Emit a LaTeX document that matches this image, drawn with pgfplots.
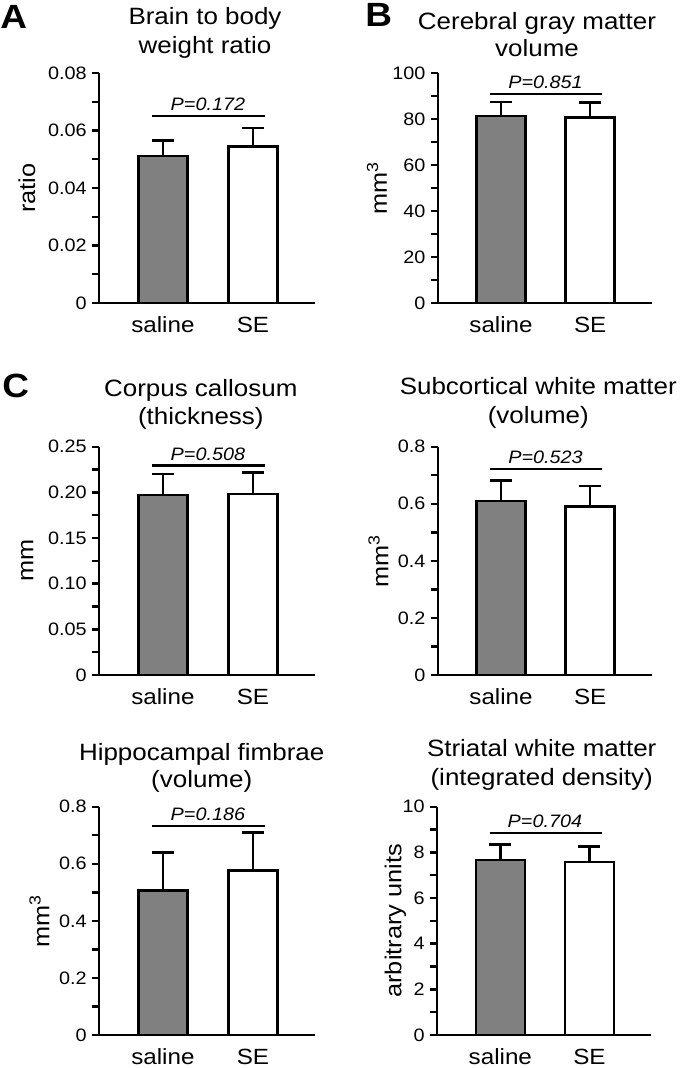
\documentclass[border=0pt]{standalone}
\usepackage{fontspec}
\setmainfont{Liberation Sans}[FakeStretch=1.1]
\usepackage{pgfplots}
\pgfplotsset{compat=1.18}
\definecolor{bargray}{RGB}{128,128,128}
\pgfplotsset{
  panel/.style={
    scale only axis, width=108pt, height=115pt,
    xmin=-0.71, xmax=1.69, ymin=0,
    axis x line=bottom, axis y line=left,
    axis line style={-, line width=1.2pt, black},
    tick align=outside, major tick length=3.5pt, minor tick length=3.5pt,
    tick style={black, line width=1.2pt},
    xtick={0,1}, xticklabels={saline,SE}, xtick style={draw=none},
    minor y tick num=1, scaled y ticks=false,
    xticklabel style={anchor=base, yshift=-11.2pt, font=\fontsize{11}{13}\selectfont},
    yticklabel style={anchor=east, inner sep=0pt, xshift=-2.5pt, font=\fontsize{9}{10}\selectfont},
    ylabel style={anchor=base, font=\fontsize{11.5}{13}\selectfont},
    clip=false, anchor=south west,
  },
  salbar/.style={ybar, bar width=24.5pt, bar shift=0pt, fill=bargray, draw=black, line width=1.2pt,
    error bars/.cd, y dir=plus, y explicit,
    error bar style={line width=1.2pt, black},
    error mark options={rotate=90, line width=1.2pt, mark size=5.5pt, black}},
  sebar/.style={ybar, bar width=24.5pt, bar shift=0pt, fill=white, draw=black, line width=1.2pt,
    error bars/.cd, y dir=plus, y explicit,
    error bar style={line width=1.2pt, black},
    error mark options={rotate=90, line width=1.2pt, mark size=5.5pt, black}},
}
\newcommand{\ttl}{\fontsize{11.8}{13}\selectfont}
\newcommand{\pfont}{\fontsize{9}{11}\selectfont\itshape}
\newcommand{\letfont}{\fontsize{16.8}{18}\selectfont\bfseries}
\begin{document}
\begin{tikzpicture}
\path[use as bounding box] (0pt,0pt) rectangle (340pt,-534pt);
% panel letters
\node[anchor=base west, inner sep=0pt, font=\letfont] at (0pt,-14.5pt) {A};
\node[anchor=base west, inner sep=0pt, font=\letfont] at (182.5pt,-13.3pt) {B};
\node[anchor=base west, inner sep=0pt, font=\letfont] at (1pt,-199pt) {C};
% titles
\node[anchor=base, inner sep=0pt, font=\ttl] at (102.5pt,-12.2pt) {Brain to body};
\node[anchor=base, inner sep=0pt, font=\ttl] at (102.5pt,-26.65pt) {weight ratio};
\node[anchor=base, inner sep=0pt, font=\ttl] at (268.5pt,-14.65pt) {Cerebral gray matter};
\node[anchor=base, inner sep=0pt, font=\ttl] at (268.5pt,-28.5pt) {volume};
\node[anchor=base, inner sep=0pt, font=\ttl] at (100.4pt,-198.35pt) {Corpus callosum};
\node[anchor=base, inner sep=0pt, font=\ttl] at (100.4pt,-212pt) {(thickness)};
\node[anchor=base, inner sep=0pt, font=\ttl] at (269.15pt,-197.5pt) {Subcortical white matter};
\node[anchor=base, inner sep=0pt, font=\ttl] at (269.15pt,-211.6pt) {(volume)};
\node[anchor=base, inner sep=0pt, font=\ttl] at (100.85pt,-380pt) {Hippocampal fimbrae};
\node[anchor=base, inner sep=0pt, font=\ttl] at (100.85pt,-393.85pt) {(volume)};
\node[anchor=base, inner sep=0pt, font=\ttl] at (270.85pt,-378pt) {Striatal white matter};
\node[anchor=base, inner sep=0pt, font=\ttl] at (270.85pt,-392.7pt) {(integrated density)};

% A
\begin{axis}[panel, at={(49.5pt,-151.5pt)}, ymax=0.08,
  ytick={0,0.02,0.04,0.06,0.08}, yticklabels={0,0.02,0.04,0.06,0.08},
  ylabel={ratio}, ylabel style={at={(axis description cs:-0.296,0.5)}}]
\addplot[salbar] coordinates {(0,0.0512) +- (0,0.0053)};
\addplot[sebar] coordinates {(1,0.0544) +- (0,0.0065)};
\draw[line width=1.2pt] (axis cs:-0.12,0.065) -- (axis cs:1.135,0.065);
\node[anchor=base, inner sep=0pt, yshift=2.6pt, font=\pfont] at (axis cs:0.5,0.065) {P=0.172};
\end{axis}

% B
\begin{axis}[panel, at={(218.85pt,-151.5pt)}, width=107pt, ymax=100,
  ytick={0,20,40,60,80,100}, yticklabels={0,20,40,60,80,100},
  ylabel={mm\textsuperscript{3}}, ylabel style={at={(axis description cs:-0.238,0.5)}}]
\addplot[salbar] coordinates {(0,81.3) +- (0,6.2)};
\addplot[sebar] coordinates {(1,80.7) +- (0,6.5)};
\draw[line width=1.2pt] (axis cs:-0.12,90.9) -- (axis cs:1.135,90.9);
\node[anchor=base, inner sep=0pt, yshift=2.6pt, font=\pfont] at (axis cs:0.5,90.9) {P=0.851};
\end{axis}

% C
\begin{axis}[panel, at={(49.5pt,-337.5pt)}, height=114.15pt, ymax=0.25,
  ytick={0,0.05,0.10,0.15,0.20,0.25}, yticklabels={0,0.05,0.10,0.15,0.20,0.25},
  ylabel={mm}, ylabel style={at={(axis description cs:-0.304,0.5)}}]
\addplot[salbar] coordinates {(0,0.1971) +- (0,0.0227)};
\addplot[sebar] coordinates {(1,0.1985) +- (0,0.0234)};
\draw[line width=1.2pt] (axis cs:-0.12,0.2296) -- (axis cs:1.135,0.2296);
\node[anchor=base, inner sep=0pt, yshift=2.6pt, font=\pfont] at (axis cs:0.5,0.2296) {P=0.508};
\end{axis}

% D
\begin{axis}[panel, at={(218.85pt,-337.5pt)}, width=107pt, height=114.15pt, ymax=0.8,
  ytick={0,0.2,0.4,0.6,0.8}, yticklabels={0,0.2,0.4,0.6,0.8},
  ylabel={mm\textsuperscript{3}}, ylabel style={at={(axis description cs:-0.231,0.5)}}]
\addplot[salbar] coordinates {(0,0.610) +- (0,0.071)};
\addplot[sebar] coordinates {(1,0.591) +- (0,0.071)};
\draw[line width=1.2pt] (axis cs:-0.12,0.722) -- (axis cs:1.135,0.722);
\node[anchor=base, inner sep=0pt, yshift=2.6pt, font=\pfont] at (axis cs:0.5,0.722) {P=0.523};
\end{axis}

% E
\begin{axis}[panel, at={(49.5pt,-517.5pt)}, height=114.15pt, ymax=0.8,
  ytick={0,0.2,0.4,0.6,0.8}, yticklabels={0,0.2,0.4,0.6,0.8},
  ylabel={mm\textsuperscript{3}}, ylabel style={at={(axis description cs:-0.230,0.5)}}]
\addplot[salbar] coordinates {(0,0.506) +- (0,0.134)};
\addplot[sebar] coordinates {(1,0.577) +- (0,0.132)};
\draw[line width=1.2pt] (axis cs:-0.12,0.732) -- (axis cs:1.135,0.732);
\node[anchor=base, inner sep=0pt, yshift=2.6pt, font=\pfont] at (axis cs:0.5,0.732) {P=0.186};
\end{axis}

% F
\begin{axis}[panel, at={(218.5pt,-517.5pt)}, width=107pt, height=114.15pt, ymax=10,
  ytick={0,2,4,6,8,10}, yticklabels={0,2,4,6,8,10},
  ylabel={arbitrary units}, ylabel style={at={(axis description cs:-0.167,0.5)}}]
\addplot[salbar] coordinates {(0,7.66) +- (0,0.69)};
\addplot[sebar] coordinates {(1,7.58) +- (0,0.67)};
\draw[line width=1.2pt] (axis cs:-0.12,8.86) -- (axis cs:1.135,8.86);
\node[anchor=base, inner sep=0pt, yshift=2.6pt, font=\pfont] at (axis cs:0.5,8.86) {P=0.704};
\end{axis}
\end{tikzpicture}
\end{document}
